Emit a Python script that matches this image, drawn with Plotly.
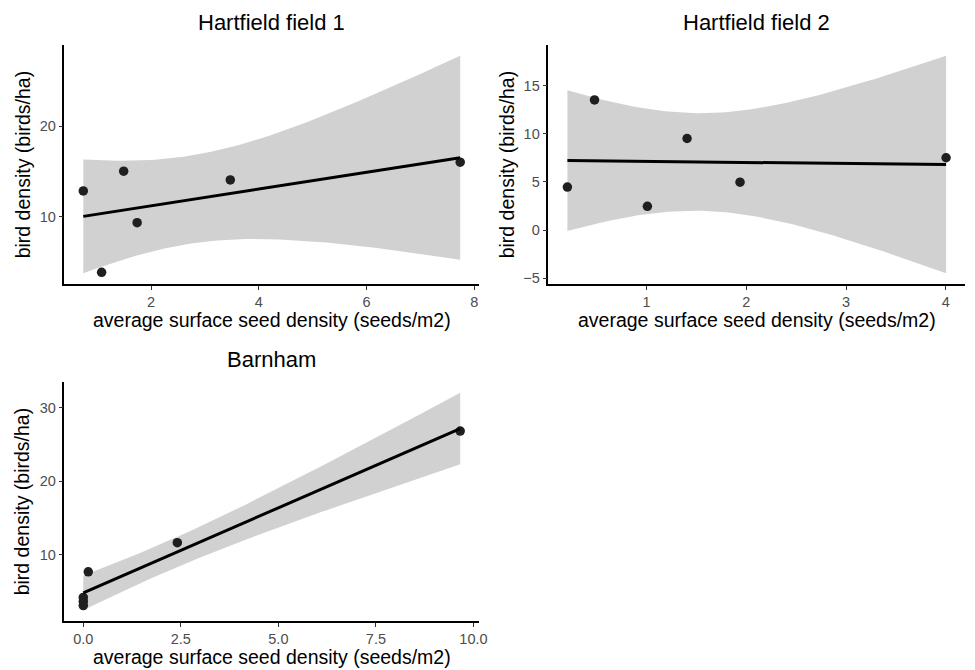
import numpy as np
import plotly.graph_objects as go

# ---- data ----
titles = ["Hartfield field 1", "Hartfield field 2", "Barnham"]

h1_seed = [0.74, 1.08, 1.49, 1.74, 3.47, 7.74]
h1_bird = [12.86, 3.85, 15.05, 9.34, 14.07, 16.04]

h2_seed = [0.206, 0.478, 1.008, 1.406, 1.937, 4.003]
h2_bird = [4.47, 13.52, 2.47, 9.51, 4.98, 7.51]

b_seed = [0.0, 0.0, 0.0, 0.127, 2.41, 9.66]
b_bird = [4.23, 3.69, 3.12, 7.7, 11.65, 26.8]

x_ticks = [[2, 4, 6, 8], [1, 2, 3, 4], [0, 2.5, 5, 7.5, 10]]
x_ticktext = [["2", "4", "6", "8"], ["1", "2", "3", "4"], ["0.0", "2.5", "5.0", "7.5", "10.0"]]
y_ticks = [[10, 20], [-5, 0, 5, 10, 15], [10, 20, 30]]

x_label = "average surface seed density (seeds/m2)"
y_label = "bird density (birds/ha)"

T_CRIT = 2.7764451  # t(0.975, df=4)

W, H = 975, 670
# plot areas in pixels (left, right, top, bottom)
boxes = [(65, 483, 45, 285), (553, 973, 45, 285), (65, 483, 383, 623)]


def lm_fit(x, y, n=80):
    x = np.asarray(x, float)
    y = np.asarray(y, float)
    xm, ym = x.mean(), y.mean()
    sxx = ((x - xm) ** 2).sum()
    b = ((x - xm) * (y - ym)).sum() / sxx
    a = ym - b * xm
    res = y - (a + b * x)
    s = np.sqrt((res ** 2).sum() / (len(x) - 2))
    xs = np.linspace(x.min(), x.max(), n)
    fit = a + b * xs
    se = s * np.sqrt(1 / len(x) + (xs - xm) ** 2 / sxx)
    return xs, fit, fit - T_CRIT * se, fit + T_CRIT * se


fig = go.Figure()
datasets = [(h1_seed, h1_bird), (h2_seed, h2_bird), (b_seed, b_bird)]
annotations = []
FONT = "Liberation Sans, Arial"

for i, ((xd, yd), box) in enumerate(zip(datasets, boxes)):
    xs, fit, lo, hi = lm_fit(xd, yd)
    ax = "" if i == 0 else str(i + 1)
    xa, ya = "x" + ax, "y" + ax
    fig.add_trace(go.Scatter(x=np.concatenate([xs, xs[::-1]]), y=np.concatenate([hi, lo[::-1]]),
                             fill="toself", fillcolor="rgba(153,153,153,0.45)", line=dict(width=0),
                             mode="lines", hoverinfo="skip", showlegend=False, xaxis=xa, yaxis=ya))
    fig.add_trace(go.Scatter(x=xd, y=yd, mode="markers", marker=dict(color="#1f1f1f", size=9.5),
                             showlegend=False, xaxis=xa, yaxis=ya))
    fig.add_trace(go.Scatter(x=xs, y=fit, mode="lines", line=dict(color="black", width=3),
                             showlegend=False, xaxis=xa, yaxis=ya))

    # ggplot-style 5% expansion
    xmin, xmax = min(xd), max(xd)
    ymin = min(min(yd), lo.min()); ymax = max(max(yd), hi.max())
    xr = [xmin - 0.05 * (xmax - xmin), xmax + 0.05 * (xmax - xmin)]
    yr = [ymin - 0.05 * (ymax - ymin), ymax + 0.05 * (ymax - ymin)]

    l, r, t, b = box
    common = dict(showgrid=False, zeroline=False, showline=True, linecolor="black", linewidth=1.6,
                  ticks="outside", ticklen=4, tickwidth=1.1, tickcolor="#333333",
                  tickfont=dict(family=FONT, size=14.5, color="#4D4D4D"))
    fig.update_layout(**{
        "xaxis" + ax: dict(domain=[l / W, r / W], range=xr, anchor=ya, tickvals=x_ticks[i],
                           ticktext=x_ticktext[i], **common),
        "yaxis" + ax: dict(domain=[1 - b / H, 1 - t / H], range=yr, anchor=xa, tickvals=y_ticks[i],
                           **common),
    })

    cx = (l + r) / 2
    title_y = t - 22
    annotations.append(dict(text=titles[i], x=cx / W, y=1 - title_y / H, xref="paper", yref="paper",
                            showarrow=False, xanchor="center", yanchor="middle",
                            font=dict(family=FONT, size=22, color="black")))
    annotations.append(dict(text=x_label, x=cx / W, y=1 - (b + 36) / H, xref="paper", yref="paper",
                            showarrow=False, xanchor="center", yanchor="middle",
                            font=dict(family=FONT, size=19.5, color="black")))
    annotations.append(dict(text=y_label, x=(l - 42) / W, y=1 - ((t + b) / 2) / H, xref="paper",
                            yref="paper", showarrow=False, xanchor="center", yanchor="middle",
                            textangle=-90,
                            font=dict(family=FONT, size=19.5, color="black")))

fig.update_layout(width=W, height=H, margin=dict(l=0, r=0, t=0, b=0), plot_bgcolor="white",
                  paper_bgcolor="white", annotations=annotations, showlegend=False)

fig.write_html("out.html")
